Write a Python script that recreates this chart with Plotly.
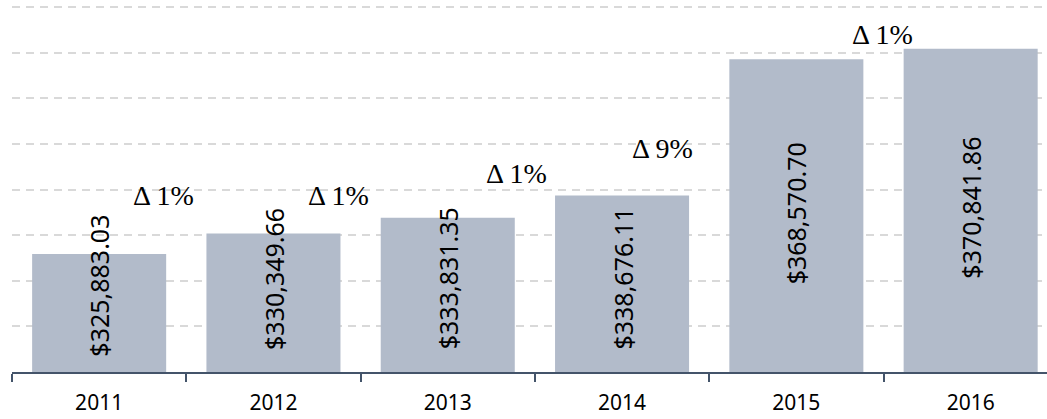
import plotly.graph_objects as go

# ---- data ----
years = ["2011", "2012", "2013", "2014", "2015", "2016"]
values = [325883.03, 330349.66, 333831.35, 338676.11, 368570.70, 370841.86]

# ---- layout helpers (positions of text labels, in data units) ----
value_label_y = [318960, 320490, 320490, 320490, 334850, 335950]
delta_label_x = [0.372, 1.376, 2.397, 3.232, 4.494]
delta_label_y = [338790, 338790, 343400, 348880, 374080]

AXIS_COLOR = "#44546A"
BAR_COLOR = "#B2BBCA"
GRID_COLOR = "#D9D9D9"

fig = go.Figure()
fig.add_trace(go.Bar(
    x=years, y=values,
    marker=dict(color=BAR_COLOR, line=dict(width=0)),
    hoverinfo="x+y",
))

annotations = []
for i, (v, ly) in enumerate(zip(values, value_label_y)):
    annotations.append(dict(
        x=i, y=ly, xref="x", yref="y",
        text=f"${v:,.2f}", textangle=-90, showarrow=False,
        font=dict(family="Noto Sans", size=25, color="#000000"),
        xanchor="center", yanchor="middle",
    ))

for i in range(1, len(values)):
    pct = round((values[i] / values[i - 1] - 1) * 100)
    annotations.append(dict(
        x=delta_label_x[i - 1], y=delta_label_y[i - 1], xref="x", yref="y",
        text=f"Δ {pct}%", showarrow=False,
        font=dict(family="Liberation Serif", size=28, color="#000000"),
        xanchor="center", yanchor="middle",
    ))

fig.update_layout(
    width=1047, height=419,
    margin=dict(l=12, r=0, t=0, b=47),
    paper_bgcolor="white", plot_bgcolor="white",
    bargap=0.231,
    showlegend=False,
    annotations=annotations,
    xaxis=dict(
        type="category",
        range=[-0.5, 5.438],
        automargin=False,
        showline=True, linecolor=AXIS_COLOR, linewidth=1.5,
        ticks="outside", tickson="boundaries", ticklen=8,
        tickcolor=AXIS_COLOR, tickwidth=1.5,
        tickfont=dict(family="Noto Sans", size=21, color="#000000"),
        ticklabelstandoff=11,
        showgrid=False, zeroline=False,
    ),
    yaxis=dict(
        range=[300000, 381534],
        automargin=False,
        dtick=10000, tick0=300000,
        showgrid=True, gridcolor=GRID_COLOR, gridwidth=1.5,
        griddash="8px,6px",
        showticklabels=False, zeroline=False, showline=False,
    ),
)

fig.write_html("out.html", config={"displayModeBar": False},
               post_script="document.body.style.margin='0';")
